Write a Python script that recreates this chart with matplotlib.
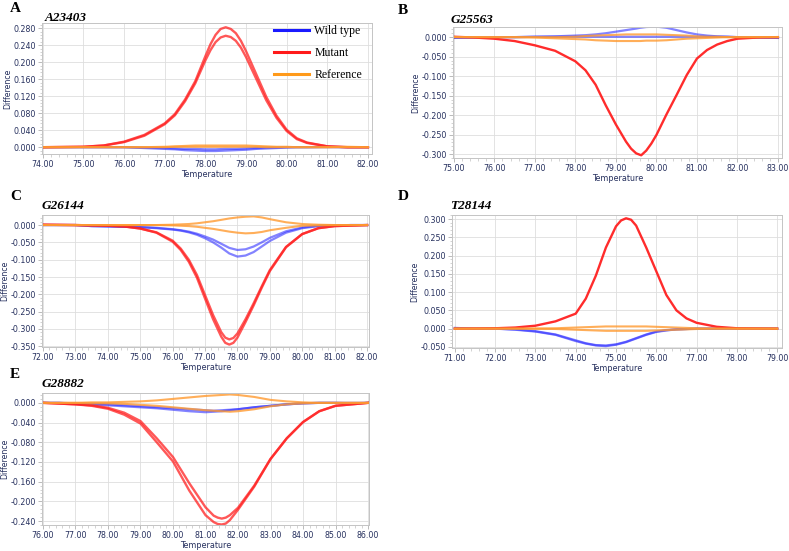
import numpy as np
import matplotlib
matplotlib.use("Agg")
import matplotlib.pyplot as plt
from matplotlib.lines import Line2D
from matplotlib.ticker import MultipleLocator, AutoMinorLocator, FormatStrFormatter

# ---- data (temperature, difference) ----
# panel A  (A23403)
a_temp_m = [74, 75, 75.5, 76, 76.5, 77, 77.25, 77.5, 77.75, 78, 78.125, 78.25, 78.375, 78.5,
            78.625, 78.75, 78.875, 79, 79.25, 79.5, 79.75, 80, 80.25, 80.5, 81, 81.5, 82]
a_mut1 = [0, 0.001, 0.004, 0.013, 0.029, 0.056, 0.078, 0.112, 0.155, 0.214, 0.242, 0.264, 0.278,
          0.282, 0.278, 0.268, 0.250, 0.226, 0.172, 0.118, 0.074, 0.041, 0.021, 0.011, 0.002, 0, 0]
a_mut2 = [0, 0.001, 0.004, 0.012, 0.027, 0.054, 0.075, 0.108, 0.150, 0.204, 0.228, 0.247, 0.258,
          0.262, 0.259, 0.250, 0.234, 0.212, 0.161, 0.110, 0.069, 0.038, 0.019, 0.010, 0.002, 0, 0]
a_temp = [74, 74.5, 75, 75.5, 76, 76.5, 77, 77.25, 77.5, 77.75, 78, 78.25, 78.5,
          78.75, 79, 79.25, 79.5, 79.75, 80, 80.25, 80.5, 81, 81.5, 82]
a_wt1 = [0, 0, 0, 0, 0, -0.002, -0.004, -0.005, -0.007, -0.008, -0.009, -0.009, -0.008,
         -0.007, -0.006, -0.004, -0.003, -0.002, -0.001, 0, 0, 0.001, 0, 0]
a_wt2 = [0, 0, 0, 0, 0, -0.001, -0.002, -0.003, -0.004, -0.004, -0.005, -0.005, -0.004,
         -0.004, -0.003, -0.002, -0.001, -0.001, 0, 0, 0, 0, 0, 0]
a_ref1 = [0, 0, 0, 0, 0, 0, 0.001, 0.002, 0.003, 0.004, 0.004, 0.004, 0.004,
          0.004, 0.004, 0.003, 0.002, 0.001, 0.001, 0, 0, 0, 0, 0]
a_ref2 = [0, 0, 0, 0, 0, 0, 0, 0.001, 0.001, 0.001, 0.001, 0.001, 0.001,
          0.001, 0.001, 0.001, 0, 0, 0, 0, 0, 0, 0.001, 0]

# panel B  (G25563)
b_temp_m = [75, 75.5, 76, 76.5, 77, 77.5, 78, 78.25, 78.5, 78.75, 79, 79.25, 79.375, 79.5,
            79.625, 79.75, 79.875, 80, 80.25, 80.5, 80.75, 81, 81.25, 81.5, 81.75, 82, 82.5, 83]
b_mut1 = [0.001, -0.001, -0.004, -0.010, -0.021, -0.035, -0.062, -0.085, -0.122, -0.175, -0.224,
          -0.268, -0.286, -0.298, -0.303, -0.291, -0.273, -0.251, -0.198, -0.148, -0.097, -0.055,
          -0.033, -0.019, -0.010, -0.004, -0.001, 0]
b_temp = [75, 75.5, 76, 76.5, 77, 77.5, 78, 78.25, 78.5, 78.75, 79, 79.25, 79.5, 79.6,
          79.75, 80, 80.25, 80.5, 80.75, 81, 81.25, 81.5, 81.75, 82, 82.5, 83]
b_wt1 = [-0.002, -0.001, 0, 0, 0.001, 0.002, 0.004, 0.005, 0.007, 0.010, 0.014, 0.018, 0.022,
         0.024, 0.026, 0.027, 0.024, 0.018, 0.012, 0.007, 0.004, 0.002, 0.001, 0, -0.001, -0.002]
b_wt2 = [-0.002, -0.001, 0, 0, 0.001, 0.001, 0.001, 0.001, 0.001, 0.001, 0.001, 0.001, 0.001,
         0.001, 0.001, 0.001, 0.001, 0.001, 0.001, 0.001, 0.001, 0.001, 0.001, 0, -0.001, -0.002]
b_ref1 = [0, 0, 0, 0, 0, 0, 0.001, 0.003, 0.004, 0.005, 0.006, 0.007, 0.007,
          0.007, 0.007, 0.007, 0.006, 0.005, 0.004, 0.002, 0.001, 0.001, 0, 0, 0, 0]
b_ref2 = [0, 0, 0, 0, -0.001, -0.003, -0.005, -0.006, -0.008, -0.009, -0.010, -0.010, -0.010,
          -0.010, -0.009, -0.009, -0.008, -0.006, -0.004, -0.003, -0.002, -0.001, 0, 0, 0, 0]

# panel C  (G26144)
c_temp_m = [72, 73, 74, 74.5, 75, 75.5, 76, 76.25, 76.5, 76.75, 77, 77.25, 77.5, 77.625, 77.75,
            77.875, 78, 78.25, 78.5, 78.75, 79, 79.5, 80, 80.5, 81, 82]
c_mut1 = [0.001, 0, -0.002, -0.004, -0.010, -0.022, -0.048, -0.072, -0.106, -0.152, -0.212,
          -0.272, -0.322, -0.340, -0.345, -0.340, -0.325, -0.280, -0.232, -0.181, -0.133,
          -0.064, -0.026, -0.009, -0.003, 0]
c_mut2 = [0.001, 0, -0.002, -0.004, -0.010, -0.021, -0.045, -0.068, -0.100, -0.144, -0.202,
          -0.260, -0.309, -0.325, -0.330, -0.326, -0.313, -0.272, -0.226, -0.177, -0.130,
          -0.063, -0.026, -0.009, -0.003, 0]
c_temp = [72, 72.5, 73, 73.5, 74, 74.5, 75, 75.5, 76, 76.25, 76.5, 76.75, 77, 77.25, 77.5,
          77.75, 78, 78.25, 78.5, 78.75, 79, 79.5, 80, 80.5, 81, 81.5, 82]
c_wt1 = [0, 0, 0, -0.003, -0.004, -0.005, -0.006, -0.009, -0.013, -0.016, -0.021, -0.028,
         -0.038, -0.050, -0.065, -0.082, -0.091, -0.088, -0.078, -0.062, -0.046, -0.022,
         -0.009, -0.003, -0.001, 0, 0]
c_wt2 = [0, 0, 0, -0.003, -0.004, -0.005, -0.006, -0.008, -0.012, -0.015, -0.019, -0.025,
         -0.033, -0.042, -0.054, -0.066, -0.072, -0.070, -0.062, -0.050, -0.037, -0.018,
         -0.007, -0.002, -0.001, 0, 0]
c_ref1 = [0, 0, 0, 0, 0, 0, 0, 0, 0.001, 0.002, 0.003, 0.005, 0.008, 0.011, 0.015,
          0.019, 0.022, 0.024, 0.025, 0.022, 0.017, 0.008, 0.003, 0.001, 0, 0, 0]
c_ref2 = [0, 0, 0, 0, 0, 0, 0, 0, -0.001, -0.002, -0.003, -0.005, -0.008, -0.011, -0.015,
          -0.019, -0.022, -0.024, -0.023, -0.020, -0.015, -0.008, -0.002, -0.001, 0, 0, 0]

# panel D  (T28144)
d_temp_m = [71, 72, 72.5, 73, 73.5, 74, 74.25, 74.5, 74.75, 75, 75.125, 75.25, 75.375, 75.5,
            75.75, 76, 76.25, 76.5, 76.75, 77, 77.5, 78, 79]
d_mut1 = [0, 0.001, 0.003, 0.008, 0.020, 0.041, 0.082, 0.145, 0.222, 0.280, 0.296, 0.302, 0.298,
          0.282, 0.222, 0.157, 0.092, 0.050, 0.028, 0.016, 0.005, 0.001, 0]
d_temp = [71, 71.5, 72, 72.5, 73, 73.5, 74, 74.25, 74.5, 74.75, 75, 75.25, 75.5, 75.75,
          76, 76.25, 76.5, 76.75, 77, 77.5, 78, 78.5, 79]
d_wt1 = [0.002, 0, 0, -0.003, -0.008, -0.017, -0.034, -0.041, -0.046, -0.048, -0.044, -0.037,
         -0.027, -0.017, -0.009, -0.005, -0.002, -0.001, 0, 0, 0, 0, 0]
d_wt2 = [0.001, 0, 0, -0.002, -0.007, -0.016, -0.032, -0.040, -0.045, -0.046, -0.043, -0.036,
         -0.026, -0.016, -0.008, -0.004, -0.002, -0.001, 0, 0, 0, 0, 0]
d_ref1 = [0, 0, 0, 0, 0, 0.001, 0.003, 0.004, 0.005, 0.006, 0.006, 0.006, 0.006, 0.006,
          0.005, 0.004, 0.003, 0.002, 0.001, 0, 0, 0, 0]
d_ref2 = [0, 0, 0, 0, 0, -0.001, -0.003, -0.004, -0.005, -0.006, -0.006, -0.006, -0.006, -0.006,
          -0.005, -0.004, -0.003, -0.002, -0.001, 0, 0, 0, 0]

# panel E  (G28882)
e_temp_m = [76, 77, 77.5, 78, 78.5, 79, 79.5, 80, 80.5, 81, 81.25, 81.375, 81.5, 81.625, 81.75,
            82, 82.5, 83, 83.5, 84, 84.5, 85, 86]
e_mut1 = [0, -0.003, -0.006, -0.012, -0.024, -0.042, -0.080, -0.119, -0.178, -0.228, -0.242,
          -0.246, -0.247, -0.245, -0.238, -0.217, -0.170, -0.114, -0.072, -0.039, -0.017, -0.006, 0]
e_mut2 = [0, -0.003, -0.005, -0.010, -0.020, -0.037, -0.072, -0.110, -0.163, -0.212, -0.229,
          -0.233, -0.235, -0.233, -0.228, -0.213, -0.168, -0.114, -0.072, -0.039, -0.017, -0.006, 0]
e_temp = [76, 76.5, 77, 77.5, 78, 78.5, 79, 79.5, 80, 80.5, 81, 81.25, 81.5, 81.75, 82,
          82.5, 83, 83.5, 84, 84.5, 85, 85.5, 86]
e_wt1 = [0, 0, -0.002, -0.003, -0.005, -0.007, -0.009, -0.011, -0.014, -0.017, -0.019, -0.018,
         -0.017, -0.015, -0.013, -0.009, -0.006, -0.003, -0.001, 0, 0, -0.001, 0]
e_wt2 = [0, 0, -0.001, -0.002, -0.003, -0.005, -0.007, -0.009, -0.011, -0.013, -0.015, -0.016,
         -0.015, -0.014, -0.013, -0.009, -0.006, -0.003, -0.001, 0, 0, 0, 0]
e_ref1 = [0, 0, 0, 0.001, 0.001, 0.002, 0.003, 0.005, 0.008, 0.011, 0.014, 0.015, 0.016,
          0.017, 0.016, 0.012, 0.006, 0.003, 0.001, 0, 0, 0, 0]
e_ref2 = [0, 0, 0, -0.001, -0.001, -0.002, -0.004, -0.006, -0.009, -0.012, -0.015, -0.016,
          -0.017, -0.018, -0.017, -0.013, -0.007, -0.003, -0.001, 0, 0, 0, 0]

legend_labels = ["Wild type", "Mutant", "Reference"]

RED = "#ff2020"
BLUE = "#3030ff"
ORANGE = "#ff9a30"
NAVY = "#26305e"
SERIF = "Liberation Serif"

W, H = 789, 551
fig = plt.figure(figsize=(W / 100, H / 100), dpi=100)


def make_axes(left, top, right, bottom):
    # pixel box -> figure fraction
    return fig.add_axes([left / W, 1 - bottom / H, (right - left) / W, (bottom - top) / H])


def style(ax, xlim, ylim, ystep):
    ax.set_xlim(*xlim)
    ax.set_ylim(*ylim)
    ax.xaxis.set_major_locator(MultipleLocator(1.0))
    ax.yaxis.set_major_locator(MultipleLocator(ystep))
    ax.xaxis.set_minor_locator(AutoMinorLocator(5))
    ax.yaxis.set_minor_locator(AutoMinorLocator(5))
    ax.xaxis.set_major_formatter(FormatStrFormatter("%.2f"))
    ax.yaxis.set_major_formatter(FormatStrFormatter("%.3f"))
    ax.grid(True, which="major", color="#dedede", lw=0.6)
    ax.set_axisbelow(True)
    for s in ax.spines.values():
        s.set_color("#c4c4c4")
        s.set_linewidth(0.7)
    ax.tick_params(which="major", length=3, width=0.6, color="#b0b0b0",
                   labelsize=5.7, labelcolor=NAVY, pad=1.5)
    ax.tick_params(which="minor", length=1.8, width=0.5, color="#c0c0c0")
    ax.set_xlabel("Temperature", fontsize=5.8, color=NAVY, labelpad=0.5)
    ax.set_ylabel("Difference", fontsize=5.6, color=NAVY, labelpad=1)


def curves(ax, tm, muts, t, wts, refs, red_alpha=0.75):
    for y in wts:
        ax.plot(t, y, color=BLUE, lw=1.6, alpha=0.6, solid_joinstyle="round")
    for y in muts:
        ax.plot(tm, y, color=RED, lw=1.7, alpha=red_alpha, solid_joinstyle="round")
    for y in refs:
        ax.plot(t, y, color=ORANGE, lw=1.5, alpha=0.8, solid_joinstyle="round")


def label(px, py, letter, title, tx):
    fig.text(px / W, 1 - py / H, letter, family=SERIF, weight="bold", fontsize=11,
             va="center", ha="left")
    fig.text(tx / W, 1 - (py + 10) / H, title, family=SERIF, weight="bold", style="italic",
             fontsize=9.5, va="center", ha="left")


# A
ax = make_axes(42, 23, 372, 154)
curves(ax, a_temp_m, [a_mut1, a_mut2], a_temp, [a_wt1, a_wt2], [a_ref1, a_ref2])
style(ax, (73.98, 82.1), (-0.016, 0.292), 0.04)
handles = [Line2D([], [], color=c, lw=2.2) for c in ("#1a1aff", "#ff1a1a", "#ff9a1a")]
ax.legend(handles, legend_labels, loc="upper right", bbox_to_anchor=(0.97, 0.985),
          frameon=False, prop={"family": SERIF, "size": 8.5}, handlelength=3.0,
          handletextpad=0.45, labelspacing=0.85, borderpad=0, borderaxespad=0)
label(10, 8, "A", "A23403", 45)

# B
ax = make_axes(453, 27, 782, 158)
curves(ax, b_temp_m, [b_mut1], b_temp, [b_wt1, b_wt2], [b_ref1, b_ref2], red_alpha=0.95)
style(ax, (74.98, 83.1), (-0.310, 0.026), 0.05)
label(398, 10, "B", "G25563", 451)

# C
ax = make_axes(42, 215, 369, 347)
curves(ax, c_temp_m, [c_mut1, c_mut2], c_temp, [c_wt1, c_wt2], [c_ref1, c_ref2])
style(ax, (71.97, 82.06), (-0.352, 0.029), 0.05)
label(10, 196, "C", "G26144", 42)

# D
ax = make_axes(452, 215, 782, 348)
curves(ax, d_temp_m, [d_mut1], d_temp, [d_wt1, d_wt2], [d_ref1, d_ref2], red_alpha=0.95)
style(ax, (70.93, 79.12), (-0.053, 0.311), 0.05)
label(398, 196, "D", "T28144", 450)

# E
ax = make_axes(42, 393, 369, 525)
curves(ax, e_temp_m, [e_mut1, e_mut2], e_temp, [e_wt1, e_wt2], [e_ref1, e_ref2])
style(ax, (75.97, 86.03), (-0.248, 0.020), 0.04)
label(10, 374, "E", "G28882", 42)

fig.savefig("out.png", dpi=100)
